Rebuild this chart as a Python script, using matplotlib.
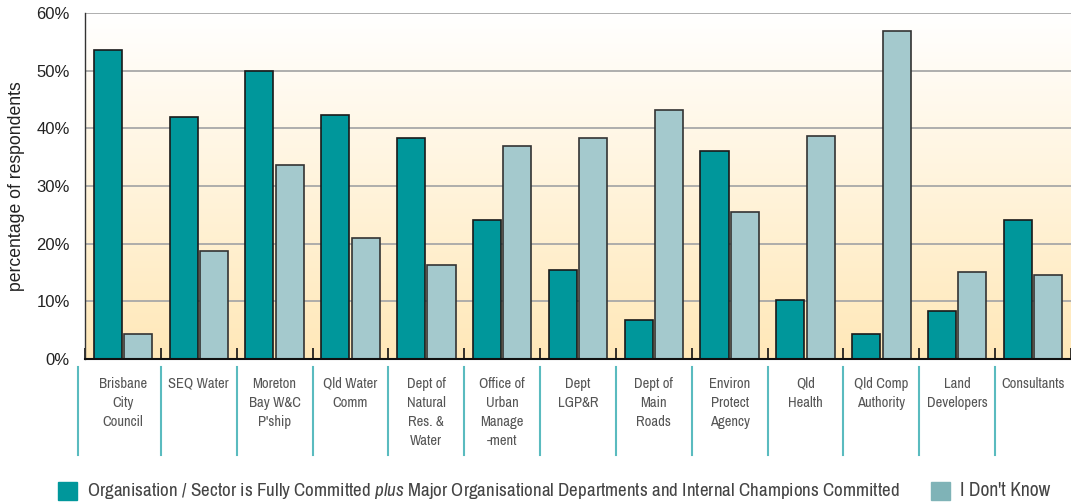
import matplotlib
matplotlib.use("Agg")
import matplotlib.pyplot as plt
import numpy as np
from matplotlib.colors import LinearSegmentedColormap
from matplotlib.patches import Rectangle
import matplotlib.transforms as mtransforms

categories = ["Brisbane\nCity\nCouncil", "SEQ Water", "Moreton\nBay W&C\nP'ship",
              "Qld Water\nComm", "Dept of\nNatural\nRes. &\nWater",
              "Office of\nUrban\nManage\n-ment", "Dept\nLGP&R", "Dept of\nMain\nRoads",
              "Environ\nProtect\nAgency", "Qld\nHealth", "Qld Comp\nAuthority",
              "Land\nDevelopers", "Consultants"]
committed = [53.6, 42.0, 49.9, 42.3, 38.3, 24.1, 15.4, 6.8, 36.1, 10.2, 4.3, 8.3, 24.1]
dont_know = [4.4, 18.7, 33.6, 21.0, 16.3, 36.9, 38.3, 43.2, 25.5, 38.7, 56.9, 15.1, 14.6]
yticks = [0, 10, 20, 30, 40, 50, 60]
ytick_labels = ["0%", "10%", "20%", "30%", "40%", "50%", "60%"]
legend_labels = ["Organisation / Sector is Fully Committed $\\it{plus}$ Major Organisational Departments and Internal Champions Committed",
                 "I Don't Know"]

NARROW = ['Archivo Narrow', 'Liberation Sans Narrow', 'Liberation Sans', 'DejaVu Sans']
REG = ['Liberation Sans', 'DejaVu Sans']
plt.rcParams['font.family'] = NARROW
plt.rcParams['mathtext.fontset'] = 'custom'
plt.rcParams['mathtext.it'] = 'Archivo Narrow:italic'
plt.rcParams['mathtext.rm'] = 'Archivo Narrow'

DARK = "#00979B"
LIGHT = "#A4C9CD"
TXT = "#444444"

fig = plt.figure(figsize=(10.71, 5.04), dpi=100)
W, H = 1071, 504
ax = fig.add_axes([85 / W, (H - 359) / H, (1071 - 85) / W, 346 / H])

n = len(categories)
x = np.arange(n)
ax.set_xlim(-0.5, n - 0.5)
ax.set_ylim(0, 60)

cmap = LinearSegmentedColormap.from_list("bg", ["#FFE8B8", "#FFFFFF"])
grad = np.linspace(0, 1, 256).reshape(-1, 1)
ax.imshow(grad, aspect="auto", cmap=cmap, origin="lower",
          extent=[-0.5, n - 0.5, 0, 60], zorder=0)

for yv in yticks[1:]:
    ax.axhline(yv, color="#A8A8A8", lw=1.3, zorder=1)

bw = 0.37
ax.bar(x - 0.2, committed, bw, color=DARK, edgecolor="#1a1a1a", lw=1.2, zorder=3)
ax.bar(x + 0.2, dont_know, bw, color=LIGHT, edgecolor="#333333", lw=1.2, zorder=3)

for s in ["top", "right"]:
    ax.spines[s].set_visible(False)
ax.spines["left"].set_color("#333333")
ax.spines["bottom"].set_color("#111111")
ax.spines["bottom"].set_linewidth(1.5)
ax.spines["left"].set_linewidth(1.0)
ax.spines["bottom"].set_zorder(5)

ax.set_yticks(yticks)
ax.set_yticklabels(ytick_labels, fontsize=12, color="#222222", family=REG)
ax.tick_params(axis="y", length=0, pad=11)
ax.set_xticks(np.arange(n + 1) - 0.5)
ax.set_xticklabels([])
ax.tick_params(axis="x", direction="in", length=8, width=1.2, color="#111111")

ax.set_ylabel("percentage of respondents", fontsize=12.7, color="#222222",
              family=REG, labelpad=8)

trans = mtransforms.blended_transform_factory(ax.transData, ax.transAxes)
for i, c in enumerate(categories):
    ax.text(i, -0.052, c, transform=trans, ha="center", va="top", fontsize=10.5,
            color="#555555", linespacing=1.45)
sep_x = [-0.59] + [k - 0.5 for k in range(1, n)]
for sx in sep_x:
    ax.plot([sx, sx], [-0.023, -0.277], transform=trans, color="#5ABBBF",
            lw=1.5, clip_on=False)

fig.patches.append(Rectangle((58 / W, (H - 500) / H), 19 / W, 18 / H,
                             transform=fig.transFigure, color=DARK))
t1 = fig.text(87 / W, (H - 491) / H, legend_labels[0], fontsize=14, color=TXT, va="center")
fig.patches.append(Rectangle((931 / W, (H - 500) / H), 19 / W, 18 / H,
                             transform=fig.transFigure, color="#7FB3B7"))
t2 = fig.text(960 / W, (H - 491) / H, legend_labels[1], fontsize=14, color=TXT, va="center")

fig.canvas.draw()
r = fig.canvas.get_renderer()
for t, target in [(t1, 813), (t2, 90)]:
    w = t.get_window_extent(r).width
    t.set_fontsize(t.get_fontsize() * target / w)

fig.savefig("out.png", dpi=100)
